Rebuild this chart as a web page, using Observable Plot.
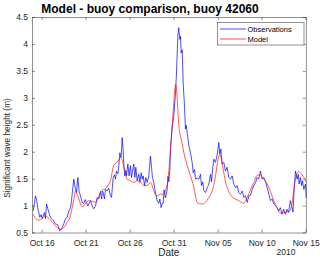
<!DOCTYPE html>
<html><head><meta charset="utf-8">
<script src="https://cdn.jsdelivr.net/npm/d3@7"></script>
<script src="https://cdn.jsdelivr.net/npm/@observablehq/plot@0.6"></script>
<style>
html,body{margin:0;padding:0;background:#fff;}
#chart svg{display:block;}
</style>
</head><body><div id="chart"></div>
<script>
// ---- data (days since 2010-10-15 00:00 UTC, significant wave height in m) ----
const startUTC = Date.UTC(2010, 9, 15);
const obsDay = [0.00,0.12,0.24,0.38,0.50,0.73,0.88,1.00,1.26,1.38,1.49,1.64,1.87,2.02,2.25,2.51,2.77,3.00,3.27,3.46,3.65,3.84,4.03,4.22,4.33,4.48,4.59,4.75,4.90,5.05,5.20,5.35,5.54,5.73,5.88,6.03,6.18,6.30,6.49,6.68,6.86,7.06,7.25,7.44,7.62,7.75,7.85,7.93,8.08,8.19,8.38,8.57,8.76,8.88,9.07,9.22,9.33,9.44,9.60,9.71,9.82,9.97,10.09,10.20,10.28,10.39,10.50,10.58,10.73,10.88,11.03,11.15,11.26,11.41,11.53,11.64,11.79,11.98,12.10,12.25,12.36,12.48,12.63,12.78,12.93,13.12,13.30,13.42,13.53,13.68,13.80,13.95,14.07,14.25,14.37,14.52,14.64,14.75,14.85,15.01,15.20,15.30,15.39,15.50,15.58,15.77,15.95,16.15,16.26,16.41,16.52,16.64,16.72,16.79,16.91,17.02,17.17,17.28,17.38,17.48,17.66,17.85,18.04,18.16,18.31,18.42,18.61,18.80,18.99,19.10,19.25,19.37,19.56,19.75,19.93,20.13,20.24,20.39,20.50,20.69,20.89,21.07,21.18,21.30,21.45,21.64,21.83,22.02,22.20,22.40,22.59,22.77,22.97,23.16,23.34,23.53,23.73,23.91,24.10,24.30,24.48,24.67,24.86,25.05,25.24,25.43,25.60,25.81,25.92,26.00,26.18,26.38,26.57,26.76,26.94,27.13,27.32,27.51,27.70,27.89,28.06,28.25,28.44,28.63,28.82,29.00,29.20,29.39,29.50,29.67,29.78,29.97,30.09,30.20,30.35,30.47,30.58,30.73,30.92,31.00];
const obsHs = [0.92,1.05,1.19,1.10,0.97,0.79,0.84,0.77,0.88,0.77,1.04,0.95,0.82,0.77,0.74,0.67,0.65,0.54,0.60,0.67,0.77,0.79,0.91,0.97,1.10,1.34,1.50,1.34,1.25,1.53,1.27,1.19,1.07,1.05,1.12,1.07,1.00,1.04,1.10,1.00,0.95,1.00,1.16,1.13,1.27,1.13,1.28,1.25,1.13,1.31,1.28,1.33,1.19,1.16,1.53,1.58,1.50,1.65,1.60,1.75,1.99,1.90,2.27,2.04,1.77,1.56,1.66,1.56,1.78,1.56,1.75,1.53,1.65,1.78,1.53,1.72,1.47,1.59,1.44,1.62,1.50,1.56,1.38,1.53,1.44,1.56,1.93,1.73,1.53,1.44,1.31,1.19,1.10,1.05,1.13,0.97,1.05,1.05,1.30,1.15,1.30,1.55,1.45,1.66,2.06,2.45,2.67,3.10,3.47,4.15,4.31,4.09,4.15,3.84,3.90,3.29,2.86,2.43,2.50,2.36,2.12,1.99,1.81,1.62,1.68,1.50,1.52,1.50,1.59,1.38,1.45,1.28,1.25,1.34,1.40,1.59,1.45,1.72,1.87,1.81,1.96,2.18,1.96,2.06,1.78,1.81,1.65,1.72,1.53,1.50,1.56,1.41,1.34,1.38,1.25,1.22,1.28,1.16,1.19,1.07,1.19,1.20,1.30,1.38,1.43,1.53,1.50,1.65,1.55,1.50,1.53,1.45,1.34,1.22,1.10,1.13,1.04,1.01,0.97,0.91,0.97,0.85,0.94,0.85,0.94,0.88,1.10,0.97,0.89,1.41,1.65,1.50,1.59,1.41,1.53,1.38,1.47,1.31,1.41,1.16];
const modelDay = [0.00,0.24,0.62,1.00,1.38,1.56,1.94,2.32,2.70,3.08,3.46,3.84,4.14,4.41,4.59,4.78,4.97,5.16,5.35,5.54,5.73,6.00,6.30,6.68,7.06,7.25,7.55,7.82,8.08,8.38,8.76,9.14,9.52,9.90,10.09,10.28,10.47,10.65,11.03,11.41,11.79,12.17,12.55,12.93,13.30,13.50,13.68,14.07,14.44,14.82,15.05,15.20,15.39,15.58,15.77,15.95,16.10,16.18,16.30,16.41,16.52,16.72,16.91,17.10,17.48,17.85,18.23,18.42,18.61,18.99,19.18,19.56,19.93,20.32,20.69,20.89,21.07,21.20,21.35,21.55,21.83,22.20,22.59,22.97,23.34,23.73,23.91,24.10,24.30,24.67,25.05,25.43,25.81,26.18,26.57,26.94,27.32,27.70,28.06,28.44,28.82,29.20,29.39,29.59,29.78,29.97,30.16,30.35,30.73,31.00];
const modelHs = [0.84,0.77,0.74,0.77,0.82,0.80,0.74,0.67,0.60,0.57,0.60,0.70,0.79,0.97,1.11,1.28,1.22,1.14,1.04,0.99,1.00,1.07,1.10,1.09,1.07,1.11,1.22,1.30,1.31,1.36,1.47,1.76,1.81,1.90,1.85,1.72,1.59,1.50,1.47,1.44,1.47,1.44,1.38,1.38,1.44,1.38,1.28,1.19,1.22,1.22,1.30,1.40,1.65,2.05,2.50,2.90,3.20,3.26,3.10,2.80,2.50,2.30,2.15,1.99,1.75,1.56,1.35,1.19,1.07,1.04,1.04,1.07,1.16,1.28,1.55,1.78,1.92,1.95,1.88,1.70,1.45,1.27,1.17,1.13,1.10,1.06,1.05,1.10,1.16,1.30,1.44,1.57,1.58,1.50,1.41,1.27,1.10,0.96,0.87,0.88,0.89,0.93,1.05,1.30,1.50,1.61,1.64,1.62,1.53,1.45];
const xTickDay = [1, 6, 11, 16, 21, 26, 31];
const xTickLabels = ["Oct 16", "Oct 21", "Oct 26", "Oct 31", "Nov 05", "Nov 10", "Nov 15"];
const yTicks = [0.5, 1, 1.5, 2, 2.5, 3, 3.5, 4, 4.5];
const yTickLabels = ["0.5", "1", "1.5", "2", "2.5", "3", "3.5", "4", "4.5"];
const xDomainDay = [-0.1, 31];
const titleText = "Model - buoy comparison, buoy 42060";
const xLabelText = "Date";
const yearText = "2010";
const yLabelText = "Significant wave height (m)";
const seriesNames = ["Observations", "Model"];
const seriesColors = ["#0000ff", "#ff0000"];

// ---- build ----
const toDate = d => new Date(startUTC + d * 864e5);
const obs = obsDay.map((d, i) => ({date: toDate(d), hs: obsHs[i]}));
const model = modelDay.map((d, i) => ({date: toDate(d), hs: modelHs[i]}));
const xTicks = xTickDay.map(toDate);

const W = 320, H = 260, mL = 32, mR = 14.3, mT = 17, mB = 27.5;
const innerW = W - mL - mR, innerH = H - mT - mB;
const axisColor = "#262626";
const font = "'Liberation Sans', Arial, Helvetica, sans-serif";

const plot = Plot.plot({
  width: W, height: H,
  marginLeft: mL, marginRight: mR, marginTop: mT, marginBottom: mB,
  style: {fontFamily: font, fontSize: "8.5px", color: axisColor, background: "#fff", overflow: "visible"},
  x: {type: "utc", domain: xDomainDay.map(toDate)},
  y: {type: "linear", domain: [yTicks[0], yTicks[yTicks.length - 1]]},
  marks: [
    Plot.line(obs, {x: "date", y: "hs", stroke: seriesColors[0], strokeWidth: 0.7}),
    Plot.line(model, {x: "date", y: "hs", stroke: seriesColors[1], strokeWidth: 0.65, curve: "monotone-x"}),
    Plot.frame({stroke: axisColor, strokeWidth: 0.5}),
    Plot.tickX(xTicks, {x: d => d, stroke: axisColor, strokeWidth: 0.5, insetTop: innerH - 3}),
    Plot.tickX(xTicks, {x: d => d, stroke: axisColor, strokeWidth: 0.5, insetBottom: innerH - 3}),
    Plot.tickY(yTicks, {y: d => d, stroke: axisColor, strokeWidth: 0.5, insetRight: innerW - 3}),
    Plot.tickY(yTicks, {y: d => d, stroke: axisColor, strokeWidth: 0.5, insetLeft: innerW - 3}),
    Plot.axisX(xTicks, {tickSize: 0, tickPadding: 6.5, label: null, fill: axisColor,
      tickFormat: d => xTickLabels[xTicks.findIndex(t => +t === +d)]}),
    Plot.axisY(yTicks, {tickSize: 0, tickPadding: 4.5, label: null, fill: axisColor,
      tickFormat: d => yTickLabels[yTicks.indexOf(d)]})
  ]
});
document.getElementById("chart").appendChild(plot);

// ---- annotations: title, axis labels, legend ----
const svg = d3.select(plot);
svg.append("text").attr("x", 150).attr("y", 12.5).attr("text-anchor", "middle")
  .attr("font-family", font).attr("font-size", 12).attr("font-weight", "bold").attr("fill", "#000")
  .text(titleText);
svg.append("text").attr("x", mL + innerW / 2).attr("y", 256).attr("text-anchor", "middle")
  .attr("font-family", font).attr("font-size", 10).attr("fill", axisColor).text(xLabelText);
svg.append("text").attr("x", 286).attr("y", 255).attr("text-anchor", "middle")
  .attr("font-family", font).attr("font-size", 8.5).attr("fill", axisColor).text(yearText);
svg.append("text").attr("transform", "translate(9.5,148) rotate(-90)").attr("text-anchor", "middle")
  .attr("font-family", font).attr("font-size", 8.3).attr("fill", axisColor).text(yLabelText);

const lg = svg.append("g");
lg.append("rect").attr("x", 217.3).attr("y", 22.3).attr("width", 86.7).attr("height", 22.7)
  .attr("fill", "#fff").attr("stroke", axisColor).attr("stroke-width", 0.5);
seriesNames.forEach((name, i) => {
  const yy = 29 + i * 10;
  lg.append("line").attr("x1", 220).attr("x2", 246).attr("y1", yy).attr("y2", yy)
    .attr("stroke", seriesColors[i]).attr("stroke-width", 0.7);
  lg.append("text").attr("x", 247.5).attr("y", yy + 2.7).attr("text-anchor", "start")
    .attr("font-family", font).attr("font-size", 7.5).attr("fill", "#000").text(name);
});
</script>
</body></html>
